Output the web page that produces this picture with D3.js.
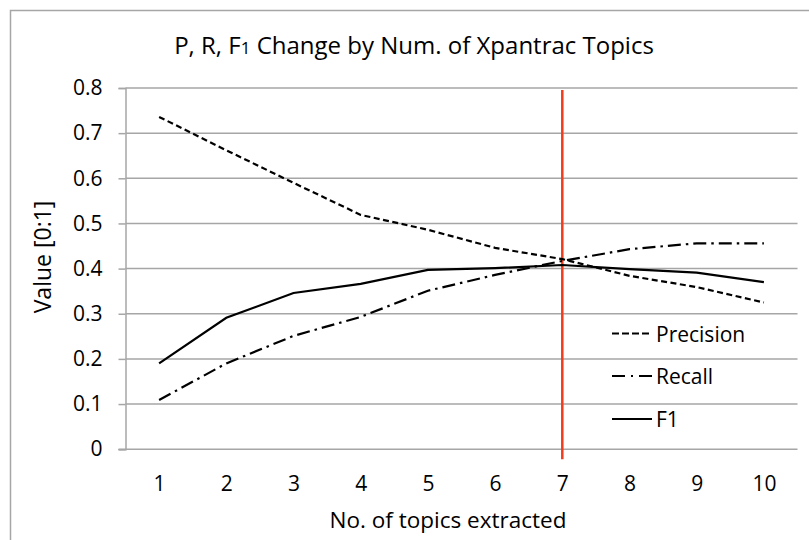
<!DOCTYPE html>
<html><head><meta charset="utf-8">
<script src="https://cdn.jsdelivr.net/npm/d3@7"></script>
<style>
html,body{margin:0;padding:0;background:#fff;}
text{font-family:"Open Sans",sans-serif;fill:#000;}
</style></head>
<body><svg id="c" width="809" height="540"></svg>
<script>
const categories = [1,2,3,4,5,6,7,8,9,10];
const precision = [0.736,0.662,0.59,0.519,0.486,0.446,0.421,0.384,0.359,0.325];
const recall    = [0.109,0.190,0.251,0.293,0.351,0.386,0.417,0.443,0.456,0.456];
const f1        = [0.190,0.291,0.346,0.366,0.397,0.401,0.408,0.399,0.391,0.370];
const yTicks = [0,0.1,0.2,0.3,0.4,0.5,0.6,0.7,0.8];
const highlight = 7;
const titleMain = "P, R, F";
const titleSub = "1";
const titleRest = " Change by Num. of Xpantrac Topics";

const svg = d3.select("#c");
const L = 125.5, R = 797.5, T = 88, B = 449.2;
const x = d3.scalePoint().domain(categories).range([L, R]).padding(0.5);
const y = d3.scaleLinear().domain([0, 0.8]).range([B, T]);
const grid = "#a6a6a6";

// outer frame
svg.append("rect").attr("x",10.5).attr("y",10.5).attr("width",820).attr("height",560)
  .attr("fill","none").attr("stroke","#a6a6a6").attr("stroke-width",1.5);

// gridlines
svg.append("g").selectAll("line").data(yTicks.filter(d=>d>0)).join("line")
  .attr("x1",L).attr("x2",R).attr("y1",d=>y(d)).attr("y2",d=>y(d))
  .attr("stroke",grid).attr("stroke-width",1.5);

// y axis
const ya = svg.append("g").attr("transform",`translate(${L},0)`)
  .call(d3.axisLeft(y).tickValues(yTicks).tickFormat(d=>d===0?"0":d3.format(".1f")(d)).tickSize(7).tickPadding(16));
ya.select(".domain").attr("stroke",grid).attr("stroke-width",1.5);
ya.selectAll(".tick line").attr("stroke",grid).attr("stroke-width",1.5);
ya.selectAll("text").style("font-size","21px").style("font-family","'Open Sans',sans-serif").attr("fill","#000");

// x axis
const xa = svg.append("g").attr("transform",`translate(0,${B})`)
  .call(d3.axisBottom(x).tickSize(0).tickPadding(27));
xa.select(".domain").attr("d",`M${L-7},0H${R}`).attr("stroke",grid).attr("stroke-width",1.5);
xa.selectAll("text").style("font-size","21px").style("font-family","'Open Sans',sans-serif").attr("fill","#000");

// red marker line
svg.append("line").attr("x1",x(highlight)).attr("x2",x(highlight))
  .attr("y1",y(0.8)+2).attr("y2",B+10)
  .attr("stroke","#f23c1c").attr("stroke-width",2.5);

const line = d3.line().x((d,i)=>x(categories[i])).y(d=>y(d));
const series = [
  {name:"Precision", values:precision, dash:"6,3.5"},
  {name:"Recall", values:recall, dash:"13,5,2.5,5"},
  {name:"F1", values:f1, dash:null}
];
series.forEach(s=>{
  svg.append("path").attr("d",line(s.values)).attr("fill","none")
    .attr("stroke","#000").attr("stroke-width",2.2)
    .attr("stroke-dasharray",s.dash);
});

// legend
const legY = [333.5, 376, 419];
series.forEach((s,i)=>{
  svg.append("line").attr("x1",612).attr("x2",652).attr("y1",legY[i]).attr("y2",legY[i])
    .attr("stroke","#000").attr("stroke-width",2.2).attr("stroke-dasharray",s.name==="Recall"?"13,6,2,6":s.name==="Precision"?"7,3":null);
  svg.append("text").attr("x",656).attr("y",legY[i]+8).style("font-size","21px").text(s.name);
});

// title
const t = svg.append("text").attr("x",414).attr("y",54).attr("text-anchor","middle").style("font-size","24px");
t.append("tspan").text(titleMain);
t.append("tspan").style("font-size","17px").text(titleSub);
t.append("tspan").text(titleRest);

// axis titles
svg.append("text").attr("x",448).attr("y",528).attr("text-anchor","middle").style("font-size","22.5px").text("No. of topics extracted");
svg.append("text").attr("transform","translate(51,257) rotate(-90)").attr("text-anchor","middle").style("font-size","23px").text("Value [0:1]");
</script></body></html>
